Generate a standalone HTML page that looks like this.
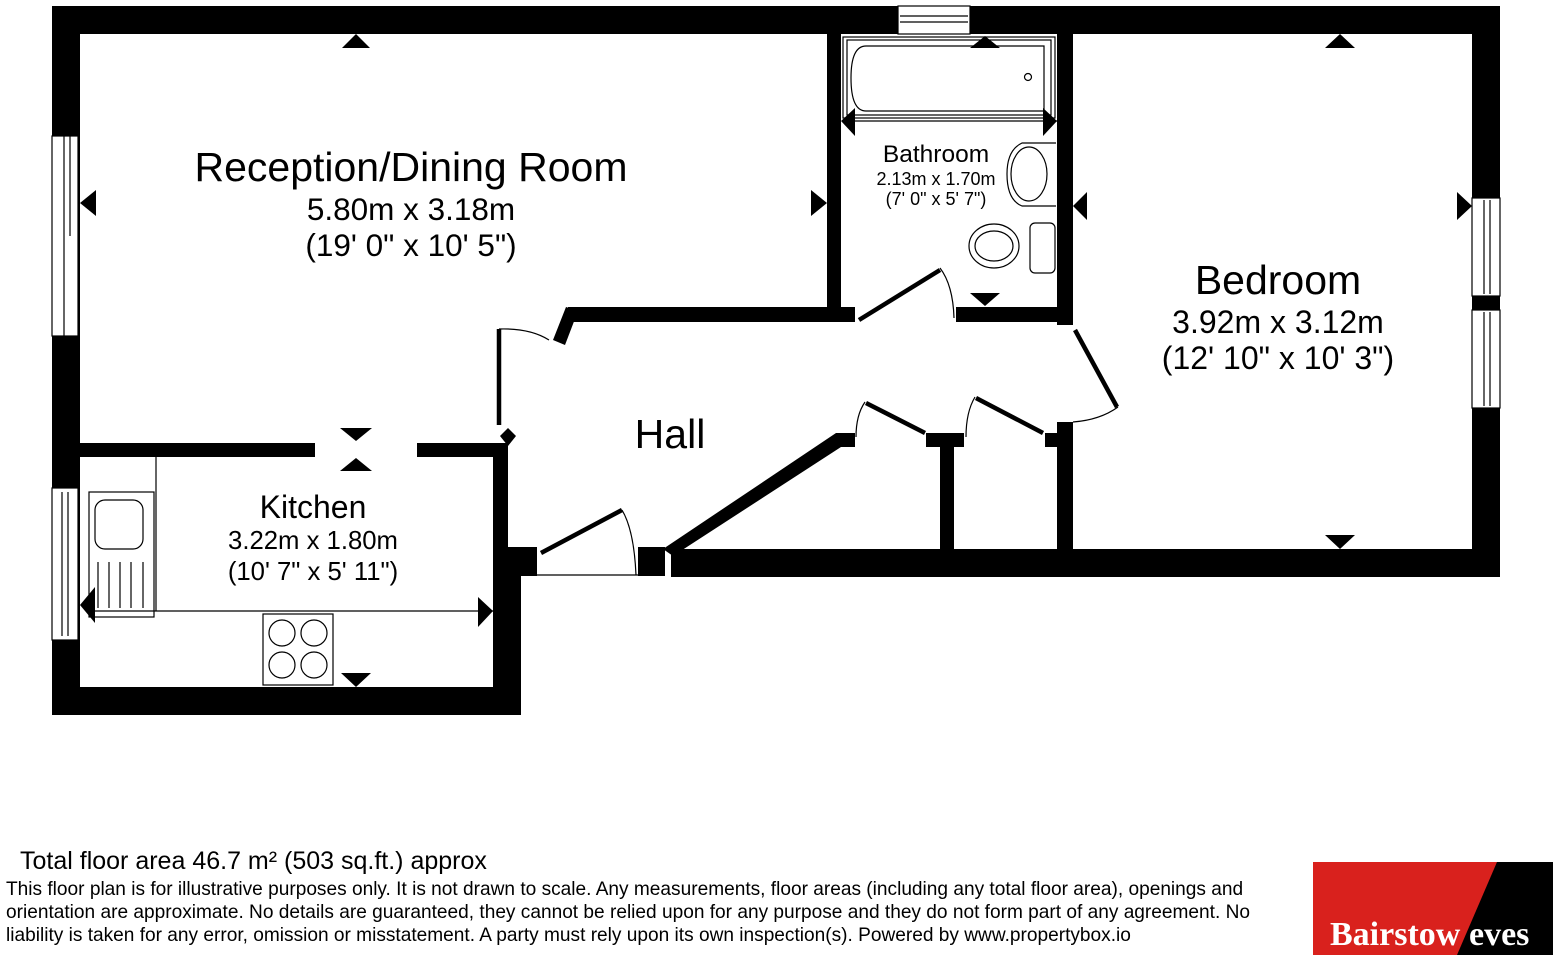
<!DOCTYPE html>
<html><head><meta charset="utf-8"><style>
html,body{margin:0;padding:0;background:#fff;}
svg{display:block;}
text{font-family:"Liberation Sans",Arial,sans-serif;fill:#000;}
</style></head><body>
<svg width="1560" height="961" viewBox="0 0 1560 961" xmlns="http://www.w3.org/2000/svg">
<g fill="#000">
<rect x="52" y="6" width="1448" height="28"/>
<rect x="1472" y="6" width="28" height="571"/>
<rect x="671" y="549" width="829" height="28"/>
<rect x="52" y="6" width="28" height="709"/>
<rect x="52" y="687" width="469" height="28"/>
<rect x="493" y="549" width="28" height="166"/>
<rect x="493" y="443" width="15" height="106"/>
<rect x="495" y="547" width="42" height="29"/>
<rect x="638" y="547" width="27" height="29"/>
<rect x="80" y="443" width="235" height="14"/>
<rect x="417" y="443" width="76" height="14"/>
<polygon points="500,436 508,428 516,436 508,446"/>
<rect x="827" y="34" width="14" height="288"/>
<rect x="568" y="307" width="287" height="15"/>
<polygon points="566,307 578,311 565,345 553,340"/>
<rect x="956" y="307" width="117" height="15"/>
<rect x="1057" y="34" width="16" height="291"/>
<rect x="1057" y="422" width="16" height="127"/>
<rect x="1045" y="433" width="28" height="14"/>
<rect x="926" y="433" width="38" height="14"/>
<rect x="940" y="447" width="14" height="102"/>
<polygon points="663,549 836,433 855,433 855,447 841,447 673,556"/>
</g>
<g fill="#fff" stroke="#000" stroke-width="1.2">
<rect x="52" y="136" width="26" height="200"/>
<rect x="52" y="488" width="26" height="152"/>
<rect x="898" y="6" width="72" height="28"/>
<rect x="1472" y="198" width="28" height="98"/>
<rect x="1472" y="310" width="28" height="98"/>
</g>
<g stroke="#000" stroke-width="1.2" fill="none">
<line x1="64" y1="136" x2="64" y2="336"/><line x1="70" y1="136" x2="70" y2="236"/>
<line x1="62" y1="492" x2="62" y2="636"/><line x1="68" y1="492" x2="68" y2="636"/>
<line x1="900" y1="16" x2="968" y2="16"/><line x1="900" y1="22" x2="968" y2="22"/>
<line x1="1484" y1="200" x2="1484" y2="294"/><line x1="1490" y1="200" x2="1490" y2="294"/>
<line x1="1484" y1="312" x2="1484" y2="406"/><line x1="1490" y1="312" x2="1490" y2="406"/>
<line x1="537" y1="575" x2="638" y2="575"/>
<path d="M499,329 Q530,328 549,340"/>
<path d="M940,268 Q953,285 954,318"/>
<path d="M1118,407 Q1100,420 1073,422"/>
<path d="M865,402 Q856,415 856,437"/>
<path d="M975,397 Q966,412 966,437"/>
<path d="M622,510 Q634,530 636,575"/>
<line x1="156" y1="457" x2="156" y2="611"/>
<line x1="90" y1="611" x2="493" y2="611"/>
<rect x="89" y="492" width="65" height="125"/>
<rect x="95" y="500" width="48" height="49" rx="10"/>
<line x1="98" y1="562" x2="98" y2="608"/><line x1="109" y1="562" x2="109" y2="608"/><line x1="120" y1="562" x2="120" y2="608"/><line x1="131" y1="562" x2="131" y2="608"/><line x1="143" y1="562" x2="143" y2="608"/>
<rect x="263" y="614" width="70" height="71"/>
<circle cx="282" cy="633" r="13"/><circle cx="314" cy="633" r="13"/><circle cx="282" cy="665" r="13"/><circle cx="314" cy="665" r="13"/>
<rect x="843" y="37" width="212" height="81"/>
<rect x="847" y="40" width="204" height="75"/>
<path d="M866,46 L1044,46 L1044,111 L866,111 Q851,111 851,78 Q851,46 866,46 Z"/>
<circle cx="1028" cy="77" r="3.5"/>
<line x1="843" y1="121" x2="1057" y2="121"/>
<path d="M1056,143 L1022,143 Q1007,150 1007,174 Q1007,200 1022,206 L1056,206"/>
<ellipse cx="1029" cy="174" rx="18" ry="27"/>
<ellipse cx="994" cy="246" rx="25" ry="22"/>
<ellipse cx="994" cy="246" rx="19" ry="15"/>
<rect x="1030" y="223" width="25" height="50" rx="5"/>
</g>
<g stroke="#000" stroke-width="4.5" fill="none">
<line x1="499" y1="425" x2="499" y2="329"/>
<line x1="859" y1="320" x2="940" y2="270"/>
<line x1="1075" y1="330" x2="1117" y2="407"/>
<line x1="925" y1="433" x2="866" y2="403"/>
<line x1="1043" y1="433" x2="976" y2="398"/>
<line x1="541" y1="553" x2="622" y2="510"/>
</g>
<g fill="#000">
<polygon points="342,48 370,48 356,34"/>
<polygon points="96,190 96,216 80,203"/>
<polygon points="811,190 811,216 827,203"/>
<polygon points="340,428 372,428 356,441"/>
<polygon points="340,471 372,471 356,458"/>
<polygon points="95,587 95,623 80,605"/>
<polygon points="478,597 478,627 493,611"/>
<polygon points="341,673 371,673 356,687"/>
<polygon points="970,48 1000,48 985,36"/>
<polygon points="855,108 855,136 841,121"/>
<polygon points="1043,108 1043,136 1057,121"/>
<polygon points="970,293 1000,293 985,306"/>
<polygon points="1087,192 1087,220 1073,206"/>
<polygon points="1325,48 1355,48 1340,34"/>
<polygon points="1457,192 1457,220 1472,206"/>
<polygon points="1325,535 1355,535 1340,549"/>
</g>
<g text-anchor="middle">
<text x="411" y="181" font-size="41">Reception/Dining Room</text>
<text x="411" y="220" font-size="31.5">5.80m x 3.18m</text>
<text x="411" y="256" font-size="31.5">(19' 0" x 10' 5")</text>
<text x="936" y="162" font-size="24.5">Bathroom</text>
<text x="936" y="185" font-size="18">2.13m x 1.70m</text>
<text x="936" y="205" font-size="18">(7' 0" x 5' 7")</text>
<text x="1278" y="294" font-size="41">Bedroom</text>
<text x="1278" y="333" font-size="32">3.92m x 3.12m</text>
<text x="1278" y="369" font-size="32">(12' 10" x 10' 3")</text>
<text x="670" y="448" font-size="41">Hall</text>
<text x="313" y="518" font-size="32">Kitchen</text>
<text x="313" y="549" font-size="25.7">3.22m x 1.80m</text>
<text x="313" y="580" font-size="25.7">(10' 7" x 5' 11")</text>
</g>
<text x="20" y="869" font-size="25">Total floor area 46.7 m² (503 sq.ft.) approx</text>
<text x="6" y="895" font-size="19.1">This floor plan is for illustrative purposes only. It is not drawn to scale. Any measurements, floor areas (including any total floor area), openings and</text>
<text x="6" y="918" font-size="19.1">orientation are approximate. No details are guaranteed, they cannot be relied upon for any purpose and they do not form part of any agreement. No</text>
<text x="6" y="941" font-size="19.1">liability is taken for any error, omission or misstatement. A party must rely upon its own inspection(s). Powered by www.propertybox.io</text>
<rect x="1313" y="862" width="240" height="93" fill="#d9211d"/>
<polygon points="1497,862 1553,862 1553,955 1457,955" fill="#000"/>
<text x="1330" y="945" font-size="34" font-weight="bold" style="font-family:'Liberation Serif',serif;fill:#fff">Bairstow</text>
<text x="1469" y="945" font-size="34" font-weight="bold" style="font-family:'Liberation Serif',serif;fill:#fff">eves</text>
</svg>
</body></html>
